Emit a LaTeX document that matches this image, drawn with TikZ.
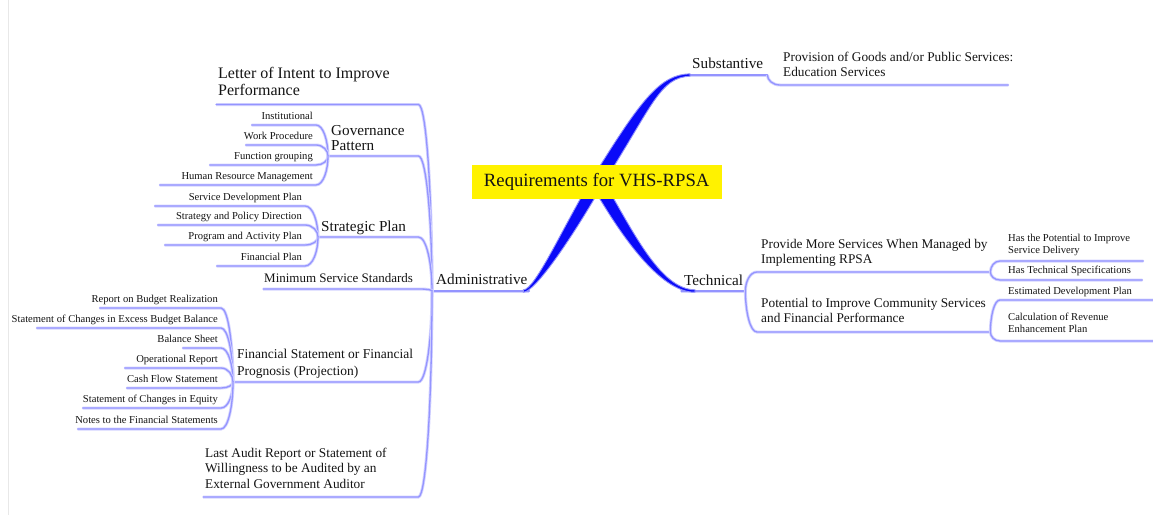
\documentclass[tikz,border=0pt]{standalone}
\usepackage{fontspec}
\setmainfont{Liberation Serif}
\usetikzlibrary{calc,backgrounds}

\definecolor{lk}{RGB}{148,148,255}
\definecolor{lkhalo}{RGB}{212,212,255}
\definecolor{br}{RGB}{10,10,248}
\definecolor{ink}{RGB}{20,20,20}
\definecolor{frame}{RGB}{232,232,232}

% font sizes (1pt = 1 unit of the drawing)
\newcommand\fsS{\fontsize{10.6pt}{12pt}\selectfont}
\newcommand\fsM{\fontsize{13.3pt}{15.2pt}\selectfont}
\newcommand\fsL{\fontsize{15.2pt}{15pt}\selectfont}

% text blocks of a fixed width, left or right aligned, baseline on the last line
\newcommand\lcol[2]{\makebox[#1pt][l]{\begin{tabular}[b]{@{}l@{}}#2\end{tabular}}}
\newcommand\rcol[2]{\makebox[#1pt][r]{\begin{tabular}[b]{@{}r@{}}#2\end{tabular}}}

% topic #1 hangs on the left of topic #2
\newcommand\joinleft[2]{%
  \draw[link] (#1.south west) -- (#1.south east)
    .. controls ($(#1.south east)!0.6!(#2.south west |- #1.south east)$)
    and ($(#2.south west)!0.5!(#2.south west |- #1.south east)$) .. (#2.south west);}
% topic #2 hangs on the right of topic #1
\newcommand\joinright[2]{%
  \draw[link] (#1.south east)
    .. controls ($(#1.south east)!0.5!(#1.south east |- #2.south west)$)
    and ($(#2.south west)!0.6!(#1.south east |- #2.south west)$) .. (#2.south west)
    -- (#2.south east);}

\tikzset{
  root/.style={fill=yellow, minimum width=250pt, minimum height=34pt, inner sep=0pt,
    font=\fontsize{18.7pt}{20pt}\selectfont, text=ink},
  topic/.style={inner xsep=3pt, inner ysep=1.9pt, text=ink, font=\fsS},
  link/.style={draw=lk, line width=1.3pt, line cap=round, line join=round,
    preaction={draw=lkhalo, line width=3pt}},
  branch/.style={fill=br, draw=br!45, line width=0.9pt},
}

\begin{document}
\begin{tikzpicture}[x=1pt, y=-1pt]
\path[use as bounding box] (0,0) rectangle (1153,515);

% central topic
\node[root] (root) at (596.7,182) {Requirements for VHS-RPSA};
\coordinate (hub) at ($(root.center)+(0.3,0)$);

% main branches
\node[topic, font=\fsL, inner xsep=2pt, inner ysep=1.5pt, anchor=south west] (subst) at (690,75) {\lcol{73}{Substantive}};
\node[topic, font=\fsL, inner xsep=4pt, inner ysep=1.5pt, anchor=south west] (admin) at (432,291) {\lcol{89}{Administrative}};
\node[topic, font=\fsL, inner xsep=3pt, inner ysep=0.5pt, anchor=south west] (tech) at (681,291) {\lcol{58}{Technical}};

% Substantive
\node[topic, font=\fsM, inner ysep=4pt, anchor=south west] (provision) at (780,85)
  {\lcol{222}{Provision of Goods and/or Public Services:\\Education Services}};

% Administrative
\node[topic, font=\fontsize{16pt}{17pt}\selectfont, inner xsep=2pt, inner ysep=4pt, anchor=south west] (letter) at (216,104.5)
  {\lcol{198}{Letter of Intent to Improve\\Performance}};
\node[topic, font=\fsL, inner ysep=1pt, anchor=south west] (gov) at (328,156)
  {\lcol{84}{Governance\\Pattern}};
\node[topic, font=\fsL, inner ysep=0.5pt, anchor=south west] (strat) at (318,237)
  {\lcol{94}{Strategic Plan}};
\node[topic, font=\fontsize{13pt}{15pt}\selectfont, inner xsep=1pt, inner ysep=2.2pt, anchor=south west] (minstd) at (263,289)
  {\lcol{155}{Minimum Service Standards}};
\node[topic, font=\fontsize{13.5pt}{16.5pt}\selectfont, inner xsep=4pt, inner ysep=1.5pt, anchor=south west] (finst) at (233,382)
  {\lcol{177}{Financial Statement or Financial\\Prognosis (Projection)}};
\node[topic, font=\fontsize{13.3pt}{15.5pt}\selectfont, inner xsep=2pt, inner ysep=4pt, anchor=south west] (audit) at (203,497)
  {\lcol{211}{Last Audit Report or Statement of\\Willingness to be Audited by an\\External Government Auditor}};

% Governance Pattern
\node[topic, anchor=south east] (inst) at (316,125) {\rcol{58}{Institutional}};
\node[topic, anchor=south east] (work) at (316,145) {\rcol{64}{Work Procedure}};
\node[topic, anchor=south east] (func) at (316,165) {\rcol{100}{Function grouping}};
\node[topic, anchor=south east] (hrm)  at (316,185) {\rcol{150}{Human Resource Management}};

% Strategic Plan
\node[topic, anchor=south east] (sdp) at (305,206) {\rcol{144}{Service Development Plan}};
\node[topic, anchor=south east] (spd) at (305,225) {\rcol{141}{Strategy and Policy Direction}};
\node[topic, anchor=south east] (pap) at (305,245) {\rcol{134}{Program and Activity Plan}};
\node[topic, anchor=south east] (fpl) at (305,266) {\rcol{82}{Financial Plan}};

% Financial Statement or Financial Prognosis
\node[topic, anchor=south east] (rbr)   at (221,308) {\rcol{115}{Report on Budget Realization}};
\node[topic, anchor=south east] (scebb) at (221,328) {\rcol{178}{Statement of Changes in Excess Budget Balance}};
\node[topic, anchor=south east] (bsh)   at (221,348) {\rcol{32}{Balance Sheet}};
\node[topic, anchor=south east] (opr)   at (221,368) {\rcol{90}{Operational Report}};
\node[topic, anchor=south east] (cfs)   at (221,388) {\rcol{88}{Cash Flow Statement}};
\node[topic, anchor=south east] (sce)   at (221,408) {\rcol{132}{Statement of Changes in Equity}};
\node[topic, anchor=south east] (notes) at (221,429) {\rcol{137}{Notes to the Financial Statements}};

% Technical
\node[topic, font=\fsM, inner xsep=4pt, inner ysep=4pt, anchor=south west] (provide) at (757,272)
  {\lcol{225}{Provide More Services When Managed by\\Implementing RPSA}};
\node[topic, font=\fsM, inner xsep=4pt, inner ysep=5pt, anchor=south west] (potential) at (757,332)
  {\lcol{225}{Potential to Improve Community Services\\and Financial Performance}};
\node[topic, inner xsep=8pt, inner ysep=3.9pt, anchor=south west] (haspot) at (1000,261)
  {\lcol{127}{Has the Potential to Improve\\Service Delivery}};
\node[topic, inner xsep=8pt, inner ysep=2.9pt, anchor=south west] (hastech) at (1000,280)
  {\lcol{126}{Has Technical Specifications}};
\node[topic, inner xsep=8pt, inner ysep=1.9pt, anchor=south west] (estdev) at (1000,300)
  {\lcol{137}{Estimated Development Plan}};
\node[topic, inner xsep=8pt, inner ysep=4.6pt, anchor=south west] (calcrev) at (1000,341)
  {\lcol{137}{Calculation of Revenue\\Enhancement Plan}};

\begin{scope}[on background layer]
  \fill[white] (0,0) rectangle (1153,515);
  \draw[frame, line width=1pt] (8.5,0) -- (8.5,515);

  % underlines of the main branches
  \draw[link] (subst.south west) -- (subst.south east);
  \draw[link] (admin.south west) -- (admin.south east);
  \draw[link] (tech.south west) -- (tech.south east);

  % Substantive
  \joinright{subst}{provision}

  % Administrative
  \joinleft{letter}{admin}
  \joinleft{gov}{admin}
  \joinleft{strat}{admin}
  \joinleft{minstd}{admin}
  \joinleft{finst}{admin}
  \joinleft{audit}{admin}

  \joinleft{inst}{gov}
  \joinleft{work}{gov}
  \joinleft{func}{gov}
  \joinleft{hrm}{gov}

  \joinleft{sdp}{strat}
  \joinleft{spd}{strat}
  \joinleft{pap}{strat}
  \joinleft{fpl}{strat}

  \joinleft{rbr}{finst}
  \joinleft{scebb}{finst}
  \joinleft{bsh}{finst}
  \joinleft{opr}{finst}
  \joinleft{cfs}{finst}
  \joinleft{sce}{finst}
  \joinleft{notes}{finst}

  % Technical
  \joinright{tech}{provide}
  \joinright{tech}{potential}
  \joinright{provide}{haspot}
  \joinright{provide}{hastech}
  \joinright{potential}{estdev}
  \joinright{potential}{calcrev}

  % tapered main branches out of the central topic
  \fill[branch] ($(hub)+(-7,0)$) .. controls (641,99) and (660,74.5) .. ($(subst.south west)+(0,-1.2)$)
     -- ($(subst.south west)+(0,1.2)$) .. controls (660,77.5) and (653,105) .. ($(hub)+(7,0)$) -- cycle;
  \fill[branch] ($(hub)+(-7,0)$) .. controls (562,229) and (535,289.5) .. ($(admin.south east)+(-6,-1.2)$)
     -- ($(admin.south east)+(-6,1.2)$) .. controls (535,292.5) and (574,235) .. ($(hub)+(7,0)$) -- cycle;
  \fill[branch] ($(hub)+(-7,0)$) .. controls (620,235) and (660,292.5) .. ($(tech.south west)+(14,1.2)$)
     -- ($(tech.south west)+(14,-1.2)$) .. controls (660,289.5) and (632,229) .. ($(hub)+(7,0)$) -- cycle;
\end{scope}
\end{tikzpicture}
\end{document}
